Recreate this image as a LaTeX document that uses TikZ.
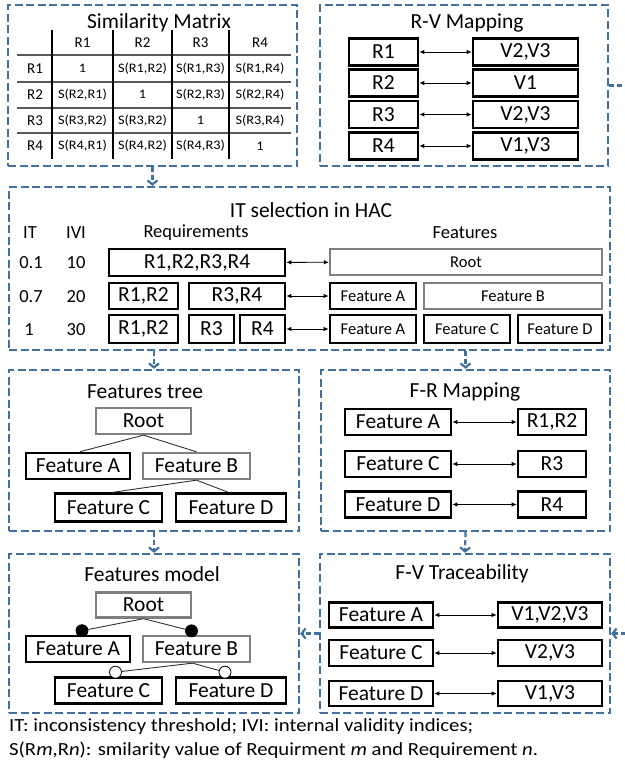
\documentclass[tikz,border=0pt]{standalone}
\usepackage{fontspec}
\setmainfont{Carlito}
\newfontfamily\widefont[FakeStretch=1.1]{Carlito}
\newfontfamily\notefont[FakeStretch=1.12]{Carlito}
\usetikzlibrary{arrows.meta}
\definecolor{panelblue}{RGB}{65,113,156}
\definecolor{boxgray}{RGB}{128,128,128}
\begin{document}
\begin{tikzpicture}[x=1pt,y=-1pt,
  panel/.style={draw=panelblue, line width=2.4pt, dash pattern=on 8pt off 3.5pt, inner sep=0pt},
  ttl/.style={font=\fontsize{21.5}{24}\selectfont, inner sep=0pt},
  bbox/.style={draw, line width=2.6pt, inner sep=0pt, font=\fontsize{21.5}{24}\selectfont},
  gbox/.style={bbox, draw=boxgray, line width=2.3pt},
  sbox/.style={bbox, font=\fontsize{16.5}{19}\selectfont},
  sgbox/.style={gbox, font=\fontsize{16.5}{19}\selectfont},
  hdr/.style={inner sep=0pt, font=\fontsize{18.5}{22}\selectfont},
  cell/.style={inner sep=0pt, font=\widefont\fontsize{13}{15}\selectfont},
  thdr/.style={inner sep=0pt, font=\fontsize{15}{17}\selectfont},
  biarrow/.style={line width=0.9pt, {Latex[length=5pt,width=4.5pt]}-{Latex[length=5pt,width=4.5pt]}},
  treeline/.style={line width=0.9pt, draw=black!80},
  flow/.style={draw=panelblue, line width=2.2pt, dash pattern=on 5pt off 3pt, -{Straight Barb[length=4pt,width=10pt]}},
  flowstub/.style={draw=panelblue, line width=2.2pt, dash pattern=on 5pt off 3pt},
  fcirc/.style={circle, draw, fill=black, line width=0.8pt, minimum size=12pt, inner sep=0pt},
  ocirc/.style={circle, draw, fill=white, line width=0.8pt, minimum size=12pt, inner sep=0pt},
  note/.style={inner sep=0pt, anchor=west, font=\notefont\fontsize{18.5}{21}\selectfont}
]
\useasboundingbox (0,0) rectangle (624,763);

% ---------- panels ----------
\node[panel, minimum width=289pt, minimum height=161pt] (sim) at (152.5,85.5) {};
\node[panel, minimum width=288pt, minimum height=161pt] (rv) at (464,85.5) {};
\node[panel, minimum width=601pt, minimum height=163pt] (it) at (309.5,268.5) {};
\node[panel, minimum width=290pt, minimum height=161pt] (tree) at (154,450.5) {};
\node[panel, minimum width=289pt, minimum height=161pt] (fr) at (465.5,450.5) {};
\node[panel, minimum width=290pt, minimum height=159pt] (model) at (154,633.5) {};
\node[panel, minimum width=290pt, minimum height=159pt] (fv) at (465,633.5) {};

% ---------- Similarity matrix ----------
\node[ttl] (simt) at (159,23) {Similarity Matrix};
\foreach \yy in {55,81.7,107.7,133.3} \draw[line width=1.8pt, black!65] (17,\yy) -- (291,\yy);
\foreach \xx in {52,113,172,229} \draw[line width=1.2pt] (\xx,30) -- (\xx,159);
\node[thdr] (h1) at (82.5,43) {R1};
\node[thdr] (h2) at (142.5,43) {R2};
\node[thdr] (h3) at (200.5,43) {R3};
\node[thdr] (h4) at (260,43) {R4};
\node[thdr] (rl1) at (35,68.5) {R1};
\node[thdr] (rl2) at (35,94.5) {R2};
\node[thdr] (rl3) at (35,120.5) {R3};
\node[thdr] (rl4) at (35,146) {R4};
\node[cell] (c11) at (82.5,68.5) {1};
\node[cell] (c12) at (142.5,68.5) {S(R1,R2)};
\node[cell] (c13) at (200.5,68.5) {S(R1,R3)};
\node[cell] (c14) at (260,68.5) {S(R1,R4)};
\node[cell] (c21) at (82.5,94.5) {S(R2,R1)};
\node[cell] (c22) at (142.5,94.5) {1};
\node[cell] (c23) at (200.5,94.5) {S(R2,R3)};
\node[cell] (c24) at (260,94.5) {S(R2,R4)};
\node[cell] (c31) at (82.5,120.5) {S(R3,R2)};
\node[cell] (c32) at (142.5,120.5) {S(R3,R2)};
\node[cell] (c33) at (200.5,120.5) {1};
\node[cell] (c34) at (260,120.5) {S(R3,R4)};
\node[cell] (c41) at (82.5,146) {S(R4,R1)};
\node[cell] (c42) at (142.5,146) {S(R4,R2)};
\node[cell] (c43) at (200.5,146) {S(R4,R3)};
\node[cell] (c44) at (260,146) {1};

% ---------- R-V mapping ----------
\node[ttl] (rvt) at (467,23) {R-V Mapping};
\node[bbox, minimum width=69pt, minimum height=27pt] (rvr1) at (383.5,52) {R1};
\node[bbox, minimum width=69pt, minimum height=27pt] (rvr2) at (383.5,83) {R2};
\node[bbox, minimum width=69pt, minimum height=27pt] (rvr3) at (383.5,114.5) {R3};
\node[bbox, minimum width=69pt, minimum height=27pt] (rvr4) at (383.5,146) {R4};
\node[bbox, minimum width=105pt, minimum height=27pt] (rvv1) at (525.5,52) {V2,V3};
\node[bbox, minimum width=105pt, minimum height=27pt] (rvv2) at (525.5,83) {V1};
\node[bbox, minimum width=105pt, minimum height=27pt] (rvv3) at (525.5,114.5) {V2,V3};
\node[bbox, minimum width=105pt, minimum height=27pt] (rvv4) at (525.5,146) {V1,V3};
\draw[biarrow] (rvr1) -- (rvv1);
\draw[biarrow] (rvr2) -- (rvv2);
\draw[biarrow] (rvr3) -- (rvv3);
\draw[biarrow] (rvr4) -- (rvv4);

% ---------- IT selection ----------
\node[ttl] (itt) at (311,210) {IT selection in HAC};
\node[hdr] (hit) at (30,233) {IT};
\node[hdr] (hivi) at (76,233) {IVI};
\node[hdr] (hreq) at (196,233) {Requirements};
\node[hdr] (hfeat) at (465,233) {Features};
\node[hdr] (it1) at (31,263) {0.1};
\node[hdr] (ivi1) at (76,263) {10};
\node[hdr] (it2) at (31,297) {0.7};
\node[hdr] (ivi2) at (76,297) {20};
\node[hdr] (it3) at (29,330) {1};
\node[hdr] (ivi3) at (76,330) {30};
% row 1
\node[bbox, minimum width=176pt, minimum height=27pt] (q1) at (197,262.5) {R1,R2,R3,R4};
\node[sgbox, minimum width=272pt, minimum height=26pt] (f1) at (466,262) {Root};
\draw[biarrow] (q1) -- (f1);
% row 2
\node[bbox, minimum width=69pt, minimum height=26pt] (q21) at (143.5,296) {R1,R2};
\node[bbox, minimum width=96pt, minimum height=26pt] (q22) at (237,296) {R3,R4};
\node[sbox, minimum width=86pt, minimum height=26pt] (f21) at (373,296) {Feature A};
\node[sgbox, minimum width=178pt, minimum height=26pt] (f22) at (513,296) {Feature B};
\draw[biarrow] (q22) -- (f21);
% row 3
\node[bbox, minimum width=69pt, minimum height=28pt] (q31) at (143.5,329) {R1,R2};
\node[bbox, minimum width=45pt, minimum height=28pt] (q32) at (211.5,329) {R3};
\node[bbox, minimum width=45pt, minimum height=28pt] (q33) at (262.5,329) {R4};
\node[sbox, minimum width=86pt, minimum height=28pt] (f31) at (373,329) {Feature A};
\node[sbox, minimum width=86pt, minimum height=28pt] (f32) at (467,329) {Feature C};
\node[sbox, minimum width=84pt, minimum height=28pt] (f33) at (560,329) {Feature D};
\draw[biarrow] (q33) -- (f31);

% ---------- Features tree ----------
\node[ttl] (treet) at (145,392) {Features tree};
\node[gbox, minimum width=95pt, minimum height=26pt] (troot) at (143.5,421) {Root};
\node[bbox, minimum width=104pt, minimum height=26pt] (ta) at (78,466) {Feature A};
\node[gbox, minimum width=107pt, minimum height=26pt] (tb) at (196.5,466) {Feature B};
\node[bbox, minimum width=107pt, minimum height=28pt] (tc) at (108.5,507.5) {Feature C};
\node[bbox, minimum width=110pt, minimum height=28pt] (td) at (231,507.5) {Feature D};
\draw[treeline] (troot.south) -- ([xshift=2pt]ta.north);
\draw[treeline] (troot.south) -- (tb.north);
\draw[treeline] (tb.south) -- ([xshift=5pt]tc.north);
\draw[treeline] (tb.south) -- ([xshift=-3pt]td.north);

% ---------- F-R mapping ----------
\node[ttl] (frt) at (465,392) {F-R Mapping};
\node[bbox, minimum width=106pt, minimum height=26pt] (fra) at (398,422) {Feature A};
\node[bbox, minimum width=106pt, minimum height=26pt] (frc) at (398,464) {Feature C};
\node[bbox, minimum width=106pt, minimum height=26pt] (frd) at (398,504.5) {Feature D};
\node[bbox, minimum width=68pt, minimum height=26pt] (frr1) at (552,422) {R1,R2};
\node[bbox, minimum width=68pt, minimum height=26pt] (frr2) at (552,464) {R3};
\node[bbox, minimum width=68pt, minimum height=26pt] (frr3) at (552,504.5) {R4};
\draw[biarrow] (fra) -- (frr1);
\draw[biarrow] (frc) -- (frr2);
\draw[biarrow] (frd) -- (frr3);

% ---------- Features model ----------
\node[ttl] (modelt) at (152,574) {Features model};
\node[gbox, minimum width=95pt, minimum height=25pt] (mroot) at (143.5,605) {Root};
\node[bbox, minimum width=104pt, minimum height=26pt] (ma) at (78,649) {Feature A};
\node[gbox, minimum width=107pt, minimum height=26pt] (mb) at (196.5,649) {Feature B};
\node[bbox, minimum width=107pt, minimum height=26pt] (mc) at (108.5,690.5) {Feature C};
\node[bbox, minimum width=110pt, minimum height=26pt] (md) at (231,690.5) {Feature D};
\node[fcirc] (ca) at ([xshift=4pt,yshift=4pt]ma.north) {};
\node[fcirc] (cb) at ([xshift=-5pt,yshift=4pt]mb.north) {};
\node[ocirc] (cc) at ([xshift=7pt,yshift=4pt]mc.north) {};
\node[ocirc] (cd) at ([xshift=-6pt,yshift=4pt]md.north) {};
\draw[treeline] (mroot.south) -- (ca);
\draw[treeline] (mroot.south) -- (cb);
\draw[treeline] ([xshift=-4pt]mb.south) -- (cc);
\draw[treeline] ([xshift=-4pt]mb.south) -- (cd);

% ---------- F-V traceability ----------
\node[ttl] (fvt) at (462,574) {F-V Traceability};
\node[bbox, minimum width=104pt, minimum height=25pt] (fva) at (381,615) {Feature A};
\node[bbox, minimum width=104pt, minimum height=26pt] (fvc) at (381,653) {Feature C};
\node[bbox, minimum width=104pt, minimum height=25pt] (fvd) at (381,693.5) {Feature D};
\node[bbox, minimum width=104pt, minimum height=25pt] (fvv1) at (550,615) {V1,V2,V3};
\node[bbox, minimum width=104pt, minimum height=26pt] (fvv2) at (550,653) {V2,V3};
\node[bbox, minimum width=104pt, minimum height=25pt] (fvv3) at (550,693.5) {V1,V3};
\draw[biarrow] (fva) -- (fvv1);
\draw[biarrow] (fvc) -- (fvv2);
\draw[biarrow] (fvd) -- (fvv3);

% ---------- flow between panels ----------
\draw[flow] (sim.south) -- (sim.south |- it.north);
\draw[flow] (tree.north |- it.south) -- (tree.north);
\draw[flow] (fr.north |- it.south) -- (fr.north);
\draw[flow] (tree.south) -- (model.north);
\draw[flow] (fr.south) -- (fv.north);
\draw[flow] (fv.west) -- (model.east);
\coordinate (rvout) at (626,85.5);
\coordinate (fvin) at (626,633.5);
\draw[flowstub] (rv.east) -- (rvout);
\draw[flow] (fvin) -- (fv.east);

% ---------- footnote ----------
\node[note] (n1) at (9,727) {IT: inconsistency threshold; IVI: internal validity indices;};
\node[note] (n2) at (9,750) {S(R\textit{m},R\textit{n}): smilarity value of Requirment \textit{m} and Requirement \textit{n}.};
\end{tikzpicture}
\end{document}
